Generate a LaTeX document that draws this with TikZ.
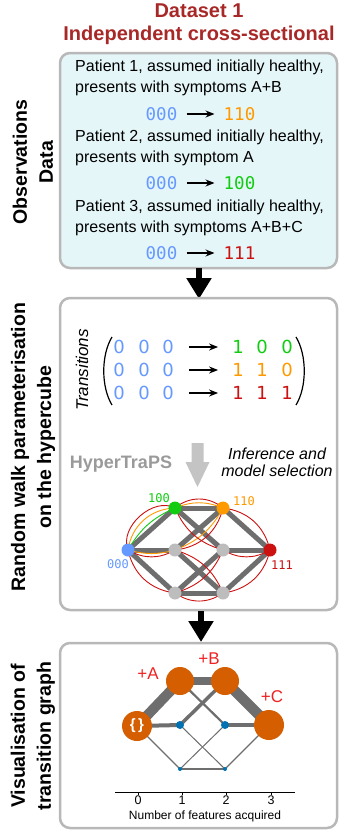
\documentclass[tikz,border=0pt]{standalone}
\usepackage{fontspec}
\setmainfont{Liberation Sans}
\newfontfamily\monofont{DejaVu Sans Mono}
\newfontfamily\digfont{DejaVu Sans}
\usetikzlibrary{arrows.meta}
\definecolor{titlered}{HTML}{A82828}
\definecolor{boxcyan}{HTML}{E5F6F9}
\definecolor{bordergray}{HTML}{B8B8B8}
\definecolor{cblue}{HTML}{6699FF}
\definecolor{cgreen}{HTML}{11CC11}
\definecolor{corange}{HTML}{FF9900}
\definecolor{cred}{HTML}{CC1111}
\definecolor{edgegray}{HTML}{6E6E6E}
\definecolor{nodegray}{HTML}{BDBDBD}
\definecolor{lightarrow}{HTML}{C4C4C4}
\definecolor{hypergray}{HTML}{9A9A9A}
\definecolor{tgorange}{HTML}{D55E00}
\definecolor{tgblue}{HTML}{0072B2}
\definecolor{plusred}{HTML}{EE2222}
\begin{document}
\begin{tikzpicture}[x=1pt,y=-1pt,
  panel/.style={draw=bordergray, line width=2.5pt, rounded corners=10pt},
  sidelabel/.style={rotate=90, font=\fontsize{19.5}{26}\selectfont\bfseries, align=center, inner sep=0},
  bodytext/.style={anchor=west, font=\fontsize{16}{19}\selectfont, inner sep=0},
  code/.style={font=\monofont\fontsize{17.5}{20}\selectfont, inner sep=0},
  dig/.style={font=\digfont\fontsize{18}{20}\selectfont, inner sep=0},
  arr/.style={-{Stealth[length=9pt,width=7pt]}, line width=1.3pt},
  bigarrow/.style={line width=6pt, -{Triangle[length=21pt,width=24pt]}},
  hc/.style={circle, inner sep=0, minimum size=13pt},
  hedge/.style={edgegray, line width=5pt},
  redc/.style={cred, line width=0.9pt},
  orc/.style={corange, line width=0.9pt},
  grc/.style={cgreen, line width=0.9pt},
  hlabel/.style={font=\monofont\fontsize{12}{14}\selectfont, inner sep=0},
  tg/.style={circle, inner sep=0, fill=tgorange},
  tgb/.style={circle, inner sep=0, fill=tgblue},
  tge/.style={edgegray},
  plus/.style={font=\fontsize{17}{20}\selectfont, text=plusred, inner sep=0}
]
\useasboundingbox (0,0) rectangle (340,830);

% titles
\node[font=\fontsize{20}{23}\selectfont\bfseries, text=titlered, align=center] (title) at (199,24.5) {Dataset 1\\Independent cross-sectional};

% ---------- panel 1 ----------
\draw[panel, fill=boxcyan] (60,53) rectangle (337,268);
\node[sidelabel] (lab1) at (33,162) {Observations\\Data};
\node[bodytext] (t1a) at (75,67) {Patient 1, assumed initially healthy,};
\node[bodytext] (t1b) at (75,88) {presents with symptoms A+B};
\node[bodytext] (t2a) at (75,137) {Patient 2, assumed initially healthy,};
\node[bodytext] (t2b) at (75,158) {presents with symptom A};
\node[bodytext] (t3a) at (75,207) {Patient 3, assumed initially healthy,};
\node[bodytext] (t3b) at (75,228) {presents with symptoms A+B+C};
\node[code, text=cblue] (c1a) at (161.5,114) {000};
\node[code, text=corange] (c1b) at (239.5,114) {110};
\node[code, text=cblue] (c2a) at (161.5,183) {000};
\node[code, text=cgreen] (c2b) at (239.5,183) {100};
\node[code, text=cblue] (c3a) at (161.5,253) {000};
\node[code, text=cred] (c3b) at (239.5,253) {111};
\draw[arr] ([xshift=9pt]c1a.east) -- ([xshift=-9pt]c1b.west);
\draw[arr] ([xshift=9pt]c2a.east) -- ([xshift=-9pt]c2b.west);
\draw[arr] ([xshift=9pt]c3a.east) -- ([xshift=-9pt]c3b.west);

% arrow 1
\coordinate (a1s) at (199,268);
\coordinate (a1e) at (199,299);
\draw[bigarrow] (a1s) -- (a1e);

% ---------- panel 2 ----------
\draw[panel, fill=white] (60,298) rectangle (337,610);
\node[sidelabel] (lab2) at (33,447) {Random walk parameterisation\\on the hypercube};
\node[rotate=90, font=\fontsize{17}{20}\selectfont\itshape, inner sep=0] (trans) at (82,370) {Transitions};
% matrix
\foreach \r/\y/\ca/\cb/\cc/\da/\db/\dc in {1/347/cgreen/cgreen/cgreen/1/0/0, 2/370/corange/corange/corange/1/1/0, 3/393/cred/cred/cred/1/1/1} {
  \node[dig, text=cblue] (m\r a) at (119,\y) {0};
  \node[dig, text=cblue] (m\r b) at (144,\y) {0};
  \node[dig, text=cblue] (m\r c) at (168,\y) {0};
  \node[dig, text=\ca] (m\r d) at (238,\y) {\da};
  \node[dig, text=\cb] (m\r e) at (262,\y) {\db};
  \node[dig, text=\cc] (m\r f) at (287,\y) {\dc};
  \draw[arr] ([xshift=15pt]m\r c.east) -- ([xshift=-14pt]m\r d.west);
}
\coordinate (lp1) at (112,337);
\coordinate (lp2) at (112,405);
\coordinate (rp1) at (296,337);
\coordinate (rp2) at (296,405);
\draw[line width=1.2pt] (lp1) .. controls (101,355) and (101,387) .. (lp2);
\draw[line width=1.2pt] (rp1) .. controls (307,355) and (307,387) .. (rp2);

% HyperTraPS arrow
\fill[lightarrow] (191.5,443) -- (203.5,443) -- (203.5,462) -- (209.5,462) -- (197.5,487) -- (185.5,462) -- (191.5,462) -- cycle;
\node[font=\fontsize{18}{20}\selectfont\bfseries, text=hypergray, inner sep=0] (htp) at (121,464) {HyperTraPS};
\node[font=\fontsize{16}{17}\selectfont\itshape, align=center, inner sep=0] (inf) at (277,462) {Inference and\\model selection};

% hypercube
\coordinate (p000) at (128,550);
\coordinate (p100) at (175,508);
\coordinate (p010) at (175,550);
\coordinate (p001) at (175,593);
\coordinate (p110) at (223,508);
\coordinate (p101) at (223,550);
\coordinate (p011) at (223,593);
\coordinate (p111) at (270,550);
\draw[hedge] (p000) -- (p100);
\draw[hedge] (p000) -- (p010);
\draw[hedge] (p000) -- (p001);
\draw[hedge] (p100) -- (p110);
\draw[hedge] (p100) -- (p101);
\draw[hedge] (p010) -- (p110);
\draw[hedge] (p010) -- (p011);
\draw[hedge] (p001) -- (p101);
\draw[hedge] (p001) -- (p011);
\draw[hedge] (p110) -- (p111);
\draw[hedge] (p101) -- (p111);
\draw[hedge] (p011) -- (p111);
% random walk curves
\draw[redc] (p000) to[bend left=70] (p100);
\draw[orc] (p000) to[bend left=40] (p100);
\draw[grc] (p000) to[bend left=18] (p100);
\draw[redc] (p100) to[bend left=40] (p110);
\draw[orc] (p100) to[bend left=22] (p110);
\draw[redc] (p110) to[bend left=35] (p111);
\draw[redc] (p000) to[bend right=30] (p010);
\draw[orc] (p000) to[bend right=15] (p010);
\draw[orc] (p010) to[bend right=20] (p110);
\draw[redc] (p010) to[bend right=35] (p110);
\draw[redc] (p100) to[bend right=25] (p101);
\draw[redc] (p101) to[bend right=30] (p111);
\draw[redc] (p000) to[bend right=35] (p001);
\draw[redc] (p001) to[bend right=35] (p011);
\draw[redc] (p011) to[bend right=35] (p111);
\draw[redc] (p010) to[bend left=25] (p011);
\draw[redc] (p001) to[bend right=25] (p101);
\node[hc, fill=cblue] (h000) at (p000) {};
\node[hc, fill=cgreen] (h100) at (p100) {};
\node[hc, fill=nodegray] (h010) at (p010) {};
\node[hc, fill=nodegray] (h001) at (p001) {};
\node[hc, fill=corange] (h110) at (p110) {};
\node[hc, fill=nodegray] (h101) at (p101) {};
\node[hc, fill=nodegray] (h011) at (p011) {};
\node[hc, fill=cred] (h111) at (p111) {};
\node[hlabel, text=cgreen] (l100) at (159,498) {100};
\node[hlabel, text=corange] (l110) at (244,501) {110};
\node[hlabel, text=cblue] (l000) at (118,564) {000};
\node[hlabel, text=cred] (l111) at (282,565) {111};

% arrow 2
\coordinate (a2s) at (201,611);
\coordinate (a2e) at (201,642);
\draw[bigarrow] (a2s) -- (a2e);

% ---------- panel 3 ----------
\draw[panel, fill=white] (60,643) rectangle (337,828);
\node[sidelabel] (lab3) at (33,736) {Visualisation of\\transition graph};
\coordinate (g0) at (137,726);
\coordinate (gA) at (180,681);
\coordinate (gm1) at (180,725);
\coordinate (gb1) at (180,769);
\coordinate (gB) at (225,681);
\coordinate (gm2) at (225,725);
\coordinate (gb2) at (225,769);
\coordinate (gC) at (269,725);
\draw[tge, line width=10pt] (g0) -- (gA);
\draw[tge, line width=8.5pt] (gA) -- (gB);
\draw[tge, line width=10.5pt] (gB) -- (gC);
\draw[tge, line width=4pt] (g0) -- (gm1);
\draw[tge, line width=3.5pt] (gm1) -- (gB);
\draw[tge, line width=2.2pt] (gA) -- (gm2);
\draw[tge, line width=4pt] (gm2) -- (gC);
\draw[tge, line width=1.2pt] (g0) -- (gb1);
\draw[tge, line width=1pt] (gb1) -- (gm2);
\draw[tge, line width=1pt] (gm1) -- (gb2);
\draw[tge, line width=1.2pt] (gb1) -- (gb2);
\draw[tge, line width=1.2pt] (gb2) -- (gC);
\node[tg, minimum size=30pt, text=white, font=\fontsize{15}{16}\selectfont\bfseries] (n0) at (g0) {\{\kern2.5pt\}};
\node[tg, minimum size=28pt] (nA) at (gA) {};
\node[tg, minimum size=28pt] (nB) at (gB) {};
\node[tg, minimum size=30pt] (nC) at (gC) {};
\node[tgb, minimum size=8pt] (nm1) at (gm1) {};
\node[tgb, minimum size=8pt] (nm2) at (gm2) {};
\node[tgb, minimum size=4pt] (nb1) at (gb1) {};
\node[tgb, minimum size=4pt] (nb2) at (gb2) {};
\node[plus] (pA) at (148,674) {+A};
\node[plus] (pB) at (209,659) {+B};
\node[plus] (pC) at (272,697) {+C};
% axis
\coordinate (ax0) at (115,792);
\coordinate (ax1) at (295,792);
\draw[line width=1pt] (ax0) -- (ax1);
\foreach \i/\x in {0/138,1/182,2/226,3/271} {
  \coordinate (tk\i) at (\x,792);
  \draw[line width=0.6pt] (tk\i) -- ++(0,3);
  \node[font=\fontsize{12.5}{14}\selectfont, inner sep=0, anchor=north] (tl\i) at (\x,796) {\i};
}
\node[font=\fontsize{12}{14}\selectfont, inner sep=0] (axl) at (205,816) {Number of features acquired};
\end{tikzpicture}
\end{document}
